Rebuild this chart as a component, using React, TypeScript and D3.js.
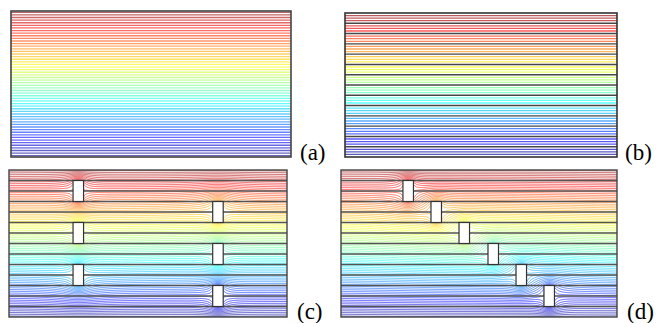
import React, { useMemo } from 'react'
import * as d3 from 'd3'

// ---- chart data (layer units: one layer = one horizontal band) ----
const layerCount = 14
const linesPerLayerA = 4
const linesPerLayerB = 4
const linesPerLayerFlow = 6
const blockWidth = 1.0
const blockHeight = 2
const blockXC = [6.1, 19.4, 6.1, 19.4, 6.1, 19.4]
const blockLayerC = [1, 3, 5, 7, 9, 11]
const blockXD = [5.9, 8.57, 11.24, 14.0, 16.67, 19.33]
const blockLayerD = [1, 3, 5, 7, 9, 11]
const panelLabels = ['(a)', '(b)', '(c)', '(d)']

// ---- layout (px) ----
const boxes = [
  { x0: 11, x1: 291, y0: 11, y1: 157 },
  { x0: 345, x1: 617, y0: 13, y1: 157 },
  { x0: 9, x1: 287, y0: 170, y1: 317 },
  { x0: 341, x1: 617, y0: 170, y1: 317 },
]
const labelPos = [[300, 160], [625, 160], [297, 319], [627, 319]]

const jet = d3.scaleLinear<string>()
  .domain([0, 0.125, 0.375, 0.625, 0.875, 1])
  .range(['#000080', '#0000ff', '#00ffff', '#ffff00', '#ff0000', '#800000'])
  .interpolate(d3.interpolateRgb)

const widthOf = (b) => (b.x1 - b.x0) / ((b.y1 - b.y0) / layerCount)

const scalesFor = (b) => ({
  x: d3.scaleLinear().domain([0, widthOf(b)]).range([b.x0, b.x1]),
  y: d3.scaleLinear().domain([0, layerCount]).range([b.y0, b.y1]),
})

// obstacles as ellipses in a uniform flow, mirrored at the two walls
const platesFrom = (xs, layers) => {
  const out = []
  xs.forEach((bx, i) => {
    const cx = bx + blockWidth / 2
    const cy = layers[i] + blockHeight / 2
    ;[cy, -cy, 2 * layerCount - cy].forEach(y => out.push({ cx, cy: y, a: 1.0, b: 0.48 }))
  })
  return out
}

const streamFn = (x, y, plates) => {
  let psi = y
  for (const p of plates) {
    const zx = x - p.cx
    const zy = y - p.cy + 1e-7
    const r2 = zx * zx + zy * zy
    const c = p.a * p.a - p.b * p.b
    const k = c / (r2 * r2)
    // 1 + c / z^2
    const qx = 1 + k * (zx * zx - zy * zy)
    const qy = k * (-2 * zx * zy)
    const m = Math.hypot(qx, qy)
    const sx = Math.sqrt(Math.max(0, (m + qx) / 2))
    const sy = (qy < 0 ? -1 : 1) * Math.sqrt(Math.max(0, (m - qx) / 2))
    // zeta = z (1 + s) / 2
    const ax = 1 + sx, ay = sy
    const zex = (zx * ax - zy * ay) / 2
    const zey = (zx * ay + zy * ax) / 2
    const R = (p.a + p.b) / 2
    const zr2 = zex * zex + zey * zey
    // Im(zeta + R^2/zeta - z)
    psi += zey - (R * R * zey) / zr2 - zy
  }
  return psi
}

const flowContours = (W, plates) => {
  const step = 1 / 16
  const pad = 0.5
  const nx = Math.ceil((W + 2 * pad) / step) + 1
  const ny = Math.ceil((layerCount + 2 * pad) / step) + 1
  const values = new Array(nx * ny)
  for (let j = 0; j < ny; j++) {
    for (let i = 0; i < nx; i++) {
      values[j * nx + i] = streamFn(-pad + i * step, -pad + j * step, plates)
    }
  }
  const levels = d3.range(layerCount * linesPerLayerFlow).map(k => (k + 0.5) / linesPerLayerFlow)
  const contours = d3.contours().size([nx, ny]).thresholds(levels)(values)
  return { contours, step, pad }
}

const FlowPanel = ({ b, xs, layers, id }) => {
  const { x, y } = scalesFor(b)
  const W = widthOf(b)
  const { contours, step, pad } = useMemo(() => flowContours(W, platesFrom(xs, layers)), [])
  const path = d3.geoPath(d3.geoTransform({
    point(gx, gy) {
      this.stream.point(x(-pad + (gx - 0.5) * step), y(-pad + (gy - 0.5) * step))
    },
  }))
  return (
    <g>
      <defs>
        <clipPath id={id}>
          <rect x={b.x0} y={b.y0} width={b.x1 - b.x0} height={b.y1 - b.y0} />
        </clipPath>
      </defs>
      <g clipPath={`url(#${id})`}>
        {contours.map((c, i) => (
          <path key={i} d={path(c) || ''} fill='none'
            stroke={jet(1 - c.value / layerCount)} strokeOpacity={0.6} strokeWidth={1} />
        ))}
      </g>
      {d3.range(1, layerCount).map(k => (
        <line key={k} x1={b.x0} x2={b.x1} y1={y(k)} y2={y(k)} stroke='#555' strokeWidth={1.3} />
      ))}
      {xs.map((bx, i) => (
        <rect key={i} x={x(bx)} y={y(layers[i])} width={x(bx + blockWidth) - x(bx)}
          height={y(layers[i] + blockHeight) - y(layers[i])} fill='#fff' stroke='#333' strokeWidth={1.2} />
      ))}
      <rect x={b.x0} y={b.y0} width={b.x1 - b.x0} height={b.y1 - b.y0} fill='none' stroke='#444' strokeWidth={1.4} />
    </g>
  )
}

const App = () => {
  const [ba, bb, bc, bd] = boxes
  const sa = scalesFor(ba)
  const sb = scalesFor(bb)
  const linesA = d3.range(layerCount * linesPerLayerA).map(k => (k + 0.5) / linesPerLayerA)
  const linesB = d3.range(1, layerCount * linesPerLayerB).map(k => k / linesPerLayerB)

  return (
    <div style={{ position: 'absolute', left: 0, top: 0 }}>
      <svg width={657} height={323} style={{ display: 'block', background: '#fff' }}>
        {/* (a) */}
        <g>
          {linesA.map((v, i) => (
            <line key={i} x1={ba.x0} x2={ba.x1} y1={sa.y(v)} y2={sa.y(v)}
              stroke={jet(1 - v / layerCount)} strokeOpacity={0.6} strokeWidth={1.3} />
          ))}
          <rect x={ba.x0} y={ba.y0} width={ba.x1 - ba.x0} height={ba.y1 - ba.y0} fill='none' stroke='#444' strokeWidth={1.6} />
        </g>
        {/* (b) */}
        <g>
          {linesB.map((v, i) => {
            const boundary = Math.abs(v - Math.round(v)) < 1e-9
            return (
              <line key={i} x1={bb.x0} x2={bb.x1} y1={sb.y(v)} y2={sb.y(v)}
                stroke={boundary ? '#333' : jet(1 - v / layerCount)}
                strokeOpacity={boundary ? 0.9 : 0.65} strokeWidth={boundary ? 1.4 : 1.3} />
            )
          })}
          <rect x={bb.x0} y={bb.y0} width={bb.x1 - bb.x0} height={bb.y1 - bb.y0} fill='none' stroke='#333' strokeWidth={1.6} />
        </g>
        <FlowPanel b={bc} xs={blockXC} layers={blockLayerC} id='clipC' />
        <FlowPanel b={bd} xs={blockXD} layers={blockLayerD} id='clipD' />
        {panelLabels.map((t, i) => (
          <text key={t} x={labelPos[i][0]} y={labelPos[i][1]} fontFamily="'Liberation Serif', 'Times New Roman', serif" fontSize={23} fill='#000'>{t}</text>
        ))}
      </svg>
    </div>
  )
}

export default App
